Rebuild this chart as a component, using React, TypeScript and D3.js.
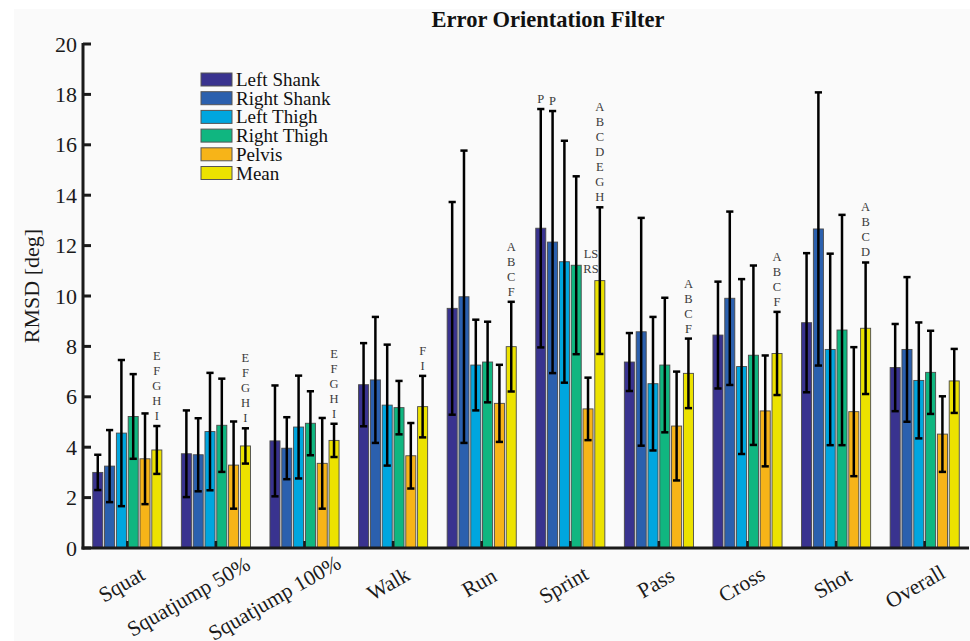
import React, { useEffect, useRef } from "react";
import * as d3 from "d3";

const categories = ["Squat", "Squatjump 50%", "Squatjump 100%", "Walk", "Run", "Sprint", "Pass", "Cross", "Shot", "Overall"];
const seriesNames = ["Left Shank", "Right Shank", "Left Thigh", "Right Thigh", "Pelvis", "Mean"];
const seriesColors = ["#39338f", "#2b60ae", "#00a6df", "#10b680", "#f7b418", "#ece200"];

const leftShankMean = [3.0, 3.74, 4.25, 6.48, 9.51, 12.69, 7.38, 8.45, 8.94, 7.16];
const leftShankSD = [0.7, 1.72, 2.2, 1.65, 4.22, 4.73, 1.15, 2.12, 2.76, 1.73];
const rightShankMean = [3.25, 3.7, 3.96, 6.67, 9.97, 12.14, 8.58, 9.91, 12.66, 7.88];
const rightShankSD = [1.43, 1.45, 1.23, 2.5, 5.8, 5.2, 4.52, 3.44, 5.42, 2.87];
const leftThighMean = [4.56, 4.62, 4.8, 5.67, 7.26, 11.36, 6.52, 7.2, 7.88, 6.65];
const leftThighSD = [2.9, 2.33, 2.04, 2.4, 1.8, 4.8, 2.65, 3.47, 3.8, 2.3];
const rightThighMean = [5.22, 4.87, 4.95, 5.57, 7.38, 11.22, 7.26, 7.65, 8.65, 6.97];
const rightThighSD = [1.68, 1.85, 1.27, 1.06, 1.6, 3.53, 2.67, 3.56, 4.57, 1.65];
const pelvisMean = [3.54, 3.29, 3.36, 3.66, 5.74, 5.52, 4.84, 5.44, 5.41, 4.52];
const pelvisSD = [1.8, 1.73, 1.8, 1.3, 1.53, 1.24, 2.16, 2.2, 2.56, 1.5];
const meanMean = [3.89, 4.05, 4.27, 5.61, 7.99, 10.61, 6.93, 7.72, 8.72, 6.63];
const meanSD = [0.95, 0.7, 0.66, 1.22, 1.78, 2.91, 1.38, 1.65, 2.61, 1.27];

const yTicks = [0, 2, 4, 6, 8, 10, 12, 14, 16, 18, 20];

// annotations: category index, series index, lines, optional explicit value for bottom line
const annotations: { cat: number; series: number; lines: string[]; at?: number; dx?: number }[] = [
  { cat: 0, series: 5, lines: ["E", "F", "G", "H", "I"] },
  { cat: 1, series: 5, lines: ["E", "F", "G", "H", "I"] },
  { cat: 2, series: 5, lines: ["E", "F", "G", "H", "I"] },
  { cat: 3, series: 5, lines: ["F", "I"] },
  { cat: 4, series: 5, lines: ["A", "B", "C", "F"] },
  { cat: 5, series: 0, lines: ["P"] },
  { cat: 5, series: 1, lines: ["P"] },
  { cat: 5, series: 4, lines: ["LS", "RS"], at: 11.07, dx: 3 },
  { cat: 5, series: 5, lines: ["A", "B", "C", "D", "E", "G", "H"] },
  { cat: 6, series: 5, lines: ["A", "B", "C", "F"] },
  { cat: 7, series: 5, lines: ["A", "B", "C", "F"] },
  { cat: 8, series: 5, lines: ["A", "B", "C", "D"] },
];

const means = [leftShankMean, rightShankMean, leftThighMean, rightThighMean, pelvisMean, meanMean];
const sds = [leftShankSD, rightShankSD, leftThighSD, rightThighSD, pelvisSD, meanSD];

const W = 970;
const H = 641;
const FONT = "'Liberation Serif', 'Times New Roman', serif";

export default function App() {
  const ref = useRef<SVGSVGElement | null>(null);

  useEffect(() => {
    const svg = d3.select(ref.current);
    svg.selectAll("*").remove();

    svg.append("rect").attr("x", 0).attr("y", 0).attr("width", W).attr("height", H).attr("fill", "#ffffff");
    svg.append("rect").attr("x", 14).attr("y", 9).attr("width", W - 14).attr("height", H - 9).attr("fill", "#fafafa");

    const x0 = d3.scaleBand<number>().domain(d3.range(categories.length)).range([83, 969]).padding(0);
    const slot = x0.bandwidth() * 0.1333;
    const x1 = d3
      .scaleBand<number>()
      .domain(d3.range(seriesNames.length))
      .range([-slot * 3, slot * 3])
      .paddingInner(0.15)
      .paddingOuter(0.075);
    const y = d3.scaleLinear().domain([0, 20]).range([548, 44]);

    const g = svg.append("g");

    // bars
    categories.forEach((c, ci) => {
      const cx = x0(ci)! + x0.bandwidth() / 2;
      seriesNames.forEach((s, si) => {
        const bx = cx + x1(si)!;
        g.append("rect")
          .attr("x", bx)
          .attr("y", y(means[si][ci]))
          .attr("width", x1.bandwidth())
          .attr("height", y(0) - y(means[si][ci]))
          .attr("fill", seriesColors[si])
          .attr("stroke", "#4a4a4a")
          .attr("stroke-width", 0.9);
      });
    });

    // x ticks (inward at group centers)
    categories.forEach((c, ci) => {
      const cx = x0(ci)! + x0.bandwidth() / 2;
      g.append("line")
        .attr("x1", cx)
        .attr("x2", cx)
        .attr("y1", y(0))
        .attr("y2", y(0) - 7)
        .attr("stroke", "#1a1a1a")
        .attr("stroke-width", 2.5);
    });

    // error bars
    categories.forEach((c, ci) => {
      const cx = x0(ci)! + x0.bandwidth() / 2;
      seriesNames.forEach((s, si) => {
        const ex = cx + x1(si)! + x1.bandwidth() / 2;
        const top = y(means[si][ci] + sds[si][ci]);
        const bot = y(means[si][ci] - sds[si][ci]);
        g.append("line").attr("x1", ex).attr("x2", ex).attr("y1", top).attr("y2", bot).attr("stroke", "#000").attr("stroke-width", 2.5);
        [top, bot].forEach((yy) => {
          g.append("line").attr("x1", ex - 3.6).attr("x2", ex + 3.6).attr("y1", yy).attr("y2", yy).attr("stroke", "#000").attr("stroke-width", 2.5);
        });
      });
    });

    // annotations
    annotations.forEach((a) => {
      const cx = x0(a.cat)! + x0.bandwidth() / 2 + x1(a.series)! + x1.bandwidth() / 2 + (a.dx || 0);
      const bottomY = a.at !== undefined ? y(a.at) : y(means[a.series][a.cat] + sds[a.series][a.cat]) - 10;
      const n = a.lines.length;
      a.lines.forEach((t, i) => {
        g.append("text")
          .attr("x", cx)
          .attr("y", bottomY - (n - 1 - i) * 15)
          .attr("text-anchor", "middle")
          .attr("dominant-baseline", "central")
          .attr("font-family", FONT)
          .attr("font-size", 12.5)
          .attr("fill", "#3a3a3a")
          .text(t);
      });
    });

    // axes lines
    g.append("line").attr("x1", 83).attr("x2", 83).attr("y1", y(20) - 1).attr("y2", y(0) + 1.5).attr("stroke", "#1a1a1a").attr("stroke-width", 3);
    g.append("line").attr("x1", 81.5).attr("x2", 969).attr("y1", y(0)).attr("y2", y(0)).attr("stroke", "#1a1a1a").attr("stroke-width", 3);

    // y ticks
    yTicks.forEach((t) => {
      g.append("line").attr("x1", 83).attr("x2", 91).attr("y1", y(t)).attr("y2", y(t)).attr("stroke", "#1a1a1a").attr("stroke-width", 3);
      g.append("text")
        .attr("x", 77)
        .attr("y", y(t))
        .attr("text-anchor", "end")
        .attr("dominant-baseline", "central")
        .attr("font-family", FONT)
        .attr("font-size", 22)
        .attr("fill", "#1a1a1a")
        .text(String(t));
    });

    // y label
    g.append("text")
      .attr("transform", `translate(31,286) rotate(-90)`)
      .attr("text-anchor", "middle")
      .attr("dominant-baseline", "central")
      .attr("font-family", FONT)
      .attr("font-size", 22)
      .attr("fill", "#1a1a1a")
      .text("RMSD [deg]");

    // x labels (rotated)
    categories.forEach((c, ci) => {
      const cx = x0(ci)! + x0.bandwidth() / 2;
      const t = g
        .append("text")
        .attr("text-anchor", "middle")
        .attr("dominant-baseline", "central")
        .attr("font-family", FONT)
        .attr("font-size", 21.5)
        .attr("fill", "#1a1a1a")
        .text(c);
      const L = (t.node() as SVGTextElement).getComputedTextLength();
      const mx = cx + 6.2 - 0.2425 * L;
      const my = 578 + 0.135 * L;
      t.attr("transform", `translate(${mx},${my}) rotate(-30)`);
    });

    // title
    g.append("text")
      .attr("x", 548)
      .attr("y", 27)
      .attr("text-anchor", "middle")
      .attr("font-family", FONT)
      .attr("font-weight", "bold")
      .attr("font-size", 22.5)
      .attr("fill", "#111")
      .text("Error Orientation Filter");

    // legend
    seriesNames.forEach((s, si) => {
      const cy = 79.5 + si * 18.7;
      g.append("rect").attr("x", 201).attr("y", cy - 6.5).attr("width", 31).attr("height", 13).attr("fill", seriesColors[si]).attr("stroke", "#555").attr("stroke-width", 1);
      g.append("text")
        .attr("x", 236)
        .attr("y", cy)
        .attr("dominant-baseline", "central")
        .attr("font-family", FONT)
        .attr("font-size", 19)
        .attr("fill", "#111")
        .text(s);
    });
  }, []);

  return (
    <svg
      ref={ref}
      width={W}
      height={H}
      style={{ position: "absolute", left: 0, top: 0, display: "block" }}
    />
  );
}
